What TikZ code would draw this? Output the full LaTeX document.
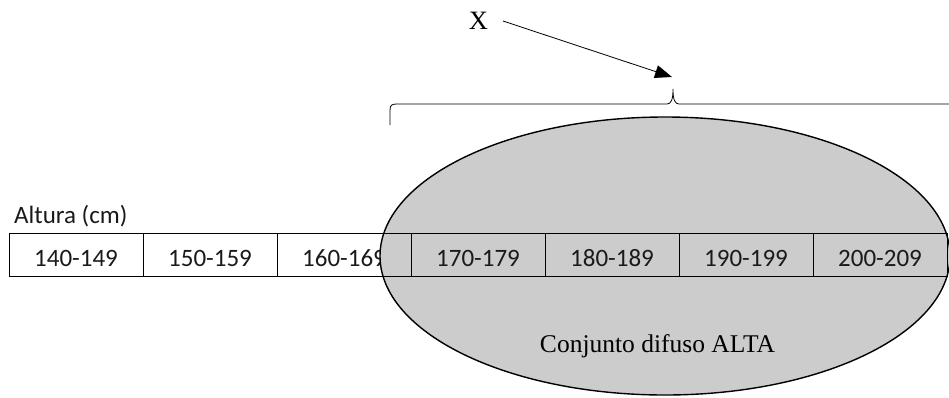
\documentclass[tikz,border=0pt]{standalone}
\usepackage{fontspec}
\setmainfont{Liberation Serif}
\newfontfamily\calib{Carlito}
\usetikzlibrary{arrows.meta,shapes.geometric}
\definecolor{setgray}{HTML}{CCCCCC}
\definecolor{txt}{HTML}{1A1A1A}
\begin{document}
\begin{tikzpicture}[x=1pt,y=-1pt,
  cellgrid/.style={rectangle,draw=black,line width=0.9pt,minimum width=134pt,minimum height=43pt,inner sep=0pt},
  celltext/.style={font=\calib\fontsize{25}{29}\selectfont,text=txt,inner sep=0pt},
  serif/.style={font=\fontsize{25.5}{29}\selectfont,inner sep=0pt}]
\useasboundingbox (0,0) rectangle (949,397);
% left cells
\node[cellgrid,fill=white] (c1) at (76,254.5) {};
\node[cellgrid,fill=white] (c2) at (210,254.5) {};
\node[cellgrid,fill=white] (c3) at (344,254.5) {};
\node[celltext,anchor=base] (t1) at (76,266) {140-149};
\node[celltext,anchor=base] (t2) at (210,266) {150-159};
\node[celltext,anchor=base] (t3) at (344,266) {160-169};
% fuzzy set ellipse
\node[ellipse,draw=black,line width=1.4pt,fill=setgray,minimum width=570pt,minimum height=278pt,inner sep=0pt] (alta) at (665,256) {};
% grid lines over the ellipse
\node[cellgrid] (g3) at (344,254.5) {};
\node[cellgrid] (c4) at (478,254.5) {};
\node[cellgrid] (c5) at (612,254.5) {};
\node[cellgrid] (c6) at (746,254.5) {};
\node[cellgrid] (c7) at (880,254.5) {};
\node[celltext,anchor=base] (t4) at (478,266) {170-179};
\node[celltext,anchor=base] (t5) at (612,266) {180-189};
\node[celltext,anchor=base] (t6) at (746,266) {190-199};
\node[celltext,anchor=base] (t7) at (880,266) {200-209};
\node[celltext,anchor=base west] (alt) at (14,223) {Altura (cm)};
\node[serif,anchor=base] (lab) at (657.5,352) {Conjunto difuso ALTA};
% brace
\draw[line width=0.8pt] (390,125) -- (390,110) .. controls (390,105) and (392,104) .. (397,104) -- (667,104)
  .. controls (671,104) and (673,100) .. (673,89) .. controls (673,100) and (675,104) .. (679,104) -- (949,104);
% X and arrow
\node[serif,font=\fontsize{26.5}{30}\selectfont,anchor=base] (x) at (478.5,29) {X};
\coordinate (tip) at (672,77);
\draw[line width=0.8pt,-{Triangle[length=17pt,width=13pt]}] (503,21) -- (tip);
\end{tikzpicture}
\end{document}
